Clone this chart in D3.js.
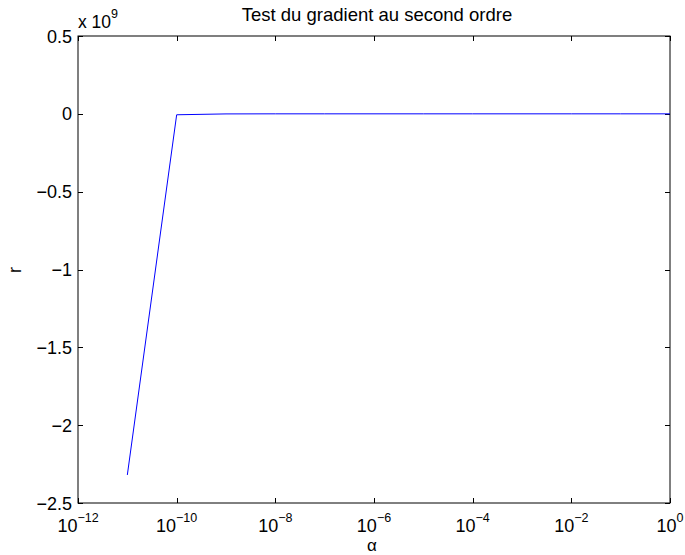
<!DOCTYPE html>
<html>
<head>
<meta charset="utf-8">
<script src="https://cdn.jsdelivr.net/npm/d3@7"></script>
<style>
  html, body { margin: 0; padding: 0; background: #fff; }
  svg { display: block; font-family: "Liberation Sans", Arial, Helvetica, sans-serif; }
</style>
</head>
<body>
<svg id="chart" width="685" height="555"></svg>
<script>
// Step sizes and the second-order ratio r computed for each
const alphaValues = [1e-11, 1e-10, 1e-9, 1e-8, 1e-7, 1e-6, 1e-5, 1e-4, 1e-3, 1e-2, 1e-1, 1e0];
const rValues = [-2.32e9, -6e6, -5e5, -4e4, -3e3, -200, -10, 0, 0, 0, 0, 0];

const xTickValues = [1e-12, 1e-10, 1e-8, 1e-6, 1e-4, 1e-2, 1e0];
const yTickValues = [0.5, 0, -0.5, -1, -1.5, -2, -2.5]; // in units of 1e9
const yScaleFactor = 1e9;

const titleText = "Test du gradient au second ordre";
const xLabelText = "α";
const yLabelText = "r";

const svg = d3.select("#chart");
const margin = { left: 78, right: 15, top: 36, bottom: 52 };
const W = 685, H = 555;
const x0 = margin.left, x1 = W - margin.right, y0 = margin.top, y1 = H - margin.bottom;

const x = d3.scaleLog().domain([1e-12, 1e0]).range([x0, x1]);
const y = d3.scaleLinear().domain([-2.5, 0.5]).range([y1, y0]);

const tickLen = 5;
const tickFont = 18;
const supFont = 12.5;

// frame
svg.append("rect")
  .attr("x", x0).attr("y", y0)
  .attr("width", x1 - x0).attr("height", y1 - y0)
  .attr("fill", "none").attr("stroke", "#000").attr("stroke-width", 1);

// inward tick marks on all four sides
const ticks = svg.append("g").attr("stroke", "#000").attr("stroke-width", 1);
xTickValues.forEach(v => {
  const px = Math.round(x(v)) + 0.5;
  ticks.append("line").attr("x1", px).attr("x2", px).attr("y1", y1).attr("y2", y1 - tickLen);
  ticks.append("line").attr("x1", px).attr("x2", px).attr("y1", y0).attr("y2", y0 + tickLen);
});
yTickValues.forEach(v => {
  const py = Math.round(y(v)) + 0.5;
  ticks.append("line").attr("x1", x0).attr("x2", x0 + tickLen).attr("y1", py).attr("y2", py);
  ticks.append("line").attr("x1", x1).attr("x2", x1 - tickLen).attr("y1", py).attr("y2", py);
});

// x tick labels: 10 with superscript exponent
xTickValues.forEach(v => {
  const e = Math.round(Math.log10(v));
  const t = svg.append("text")
    .attr("x", x(v)).attr("y", 531.5)
    .attr("text-anchor", "middle")
    .attr("font-size", tickFont).attr("fill", "#000");
  t.append("tspan").text("10");
  t.append("tspan").attr("dy", -10).attr("font-size", supFont)
    .text(String(e).replace("-", "\u2212"));
});

// y tick labels
yTickValues.forEach(v => {
  svg.append("text")
    .attr("x", 72).attr("y", y(v) + 6.5)
    .attr("text-anchor", "end")
    .attr("font-size", tickFont).attr("fill", "#000")
    .text(String(v).replace("-", "\u2212"));
});

// axis multiplier
const mult = svg.append("text").attr("x", 78).attr("y", 28)
  .attr("font-size", 17.5).attr("fill", "#000");
mult.append("tspan").text("x 10");
mult.append("tspan").attr("dy", -10).attr("font-size", supFont).text(String(Math.log10(yScaleFactor)));

// title
svg.append("text")
  .attr("x", 377).attr("y", 21)
  .attr("text-anchor", "middle")
  .attr("font-size", 18.5).attr("fill", "#000")
  .text(titleText);

// axis labels
svg.append("text")
  .attr("x", 372).attr("y", 551)
  .attr("text-anchor", "middle")
  .attr("font-size", 17).attr("fill", "#000")
  .text(xLabelText);

svg.append("text")
  .attr("transform", "translate(21,270) rotate(-90)")
  .attr("text-anchor", "middle")
  .attr("font-size", 18).attr("fill", "#000")
  .text(yLabelText);

// data line
const line = d3.line()
  .x((d, i) => x(alphaValues[i]))
  .y(d => y(d / yScaleFactor));

svg.append("path")
  .datum(rValues)
  .attr("d", line)
  .attr("fill", "none")
  .attr("stroke", "#0000ff")
  .attr("stroke-width", 1);
</script>
</body>
</html>
